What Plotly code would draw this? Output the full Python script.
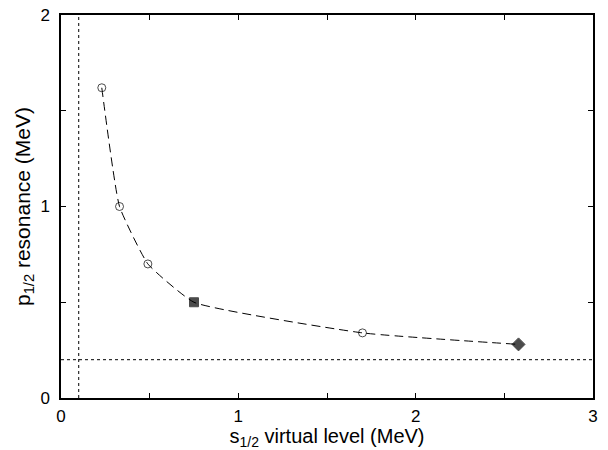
import plotly.graph_objects as go

x_vals = [0.23, 0.33, 0.49, 0.75, 1.70, 2.58]
y_vals = [1.62, 1.00, 0.70, 0.50, 0.34, 0.28]
symbols = ["circle-open", "circle-open", "circle-open", "square", "circle-open", "diamond"]
sizes = [8, 8, 8, 9, 8, 10]

vline_x = 0.1
hline_y = 0.2

fig = go.Figure()
fig.add_trace(go.Scatter(
    x=x_vals, y=y_vals, mode="lines+markers",
    line=dict(color="black", width=1, dash="9px,5px", shape="spline", smoothing=0.4),
    marker=dict(symbol=symbols, size=sizes, color="black", line=dict(color="black", width=1)),
    showlegend=False,
))
fig.add_trace(go.Scatter(x=[vline_x, vline_x], y=[0, 2], mode="lines",
                         line=dict(color="black", width=1, dash="3px,3px"), showlegend=False))
fig.add_trace(go.Scatter(x=[0, 3], y=[hline_y, hline_y], mode="lines",
                         line=dict(color="black", width=1, dash="3px,3px"), showlegend=False))

axis_common = dict(
    showgrid=False, zeroline=False, showline=True, linecolor="black", linewidth=1.5,
    mirror="ticks", ticks="inside", ticklen=5, tickcolor="black", automargin=False,
    tickfont=dict(family="Liberation Sans, Arial", size=17, color="black"),
    minor=dict(ticks="inside", ticklen=5, dtick=0.5, tickcolor="black"),
)
fig.update_xaxes(range=[0, 3], dtick=1, ticklabelstandoff=2, **axis_common,
                 title=dict(text="s<sub>1/2</sub> virtual level (MeV)", standoff=7,
                            font=dict(family="Liberation Sans, Arial", size=20, color="black")))
fig.update_yaxes(range=[0, 2], dtick=1, ticklabelstandoff=6, **axis_common,
                 title=dict(text="p<sub>1/2</sub> resonance (MeV)", standoff=4,
                            font=dict(family="Liberation Sans, Arial", size=21, color="black")))

fig.update_layout(
    width=608, height=450,
    margin=dict(l=61, r=15, t=15, b=52),
    plot_bgcolor="white", paper_bgcolor="white",
)
fig.write_html("out.html")
